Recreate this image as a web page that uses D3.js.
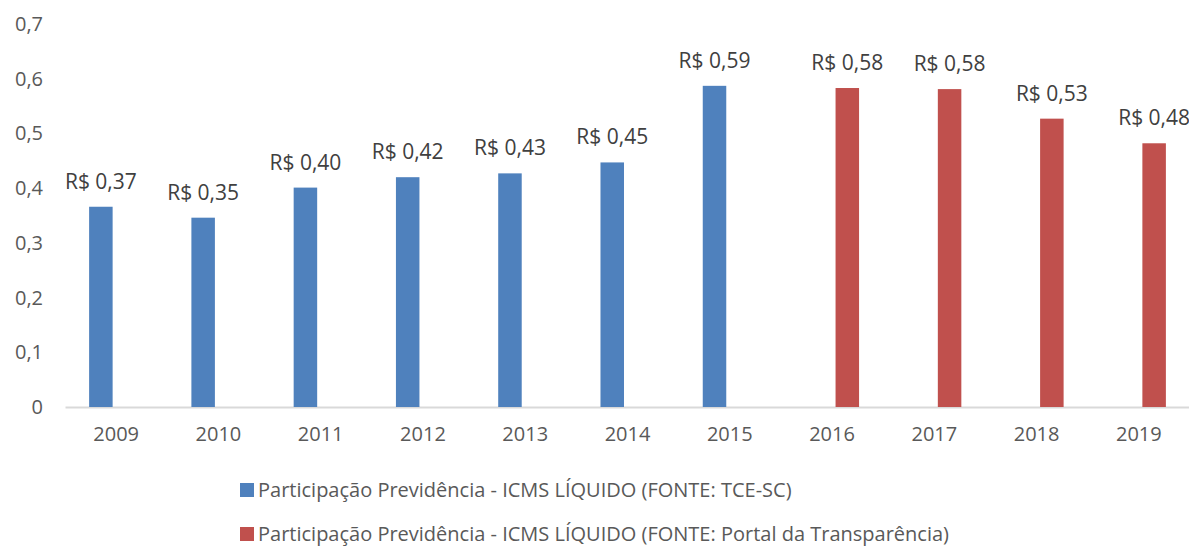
<!DOCTYPE html>
<html>
<head>
<meta charset="utf-8">
<script src="https://cdn.jsdelivr.net/npm/d3@7"></script>
<style>
    body { margin: 0; background: #fff; }
    svg { display: block; font-family: "Open Sans", "Noto Sans", sans-serif; }
</style>
</head>
<body>
<svg id="chart" width="1189" height="548"></svg>
<script>
// data
const years = ["2009", "2010", "2011", "2012", "2013", "2014", "2015", "2016", "2017", "2018", "2019"];
const tceValues = [0.366, 0.346, 0.401, 0.42, 0.427, 0.447, 0.587, null, null, null, null];
const portalValues = [null, null, null, null, null, null, null, 0.583, 0.581, 0.527, 0.482];
const seriesNames = [
    "Participação Previdência - ICMS LÍQUIDO (FONTE: TCE-SC)",
    "Participação Previdência - ICMS LÍQUIDO (FONTE: Portal da Transparência)"
];
const seriesColors = ["#4f81bd", "#c0504d"];
const yTicks = [0, 0.1, 0.2, 0.3, 0.4, 0.5, 0.6, 0.7];

const plotLeft = 65,
    plotRight = 1190,
    plotTop = 24,
    plotBottom = 407

const svg = d3.select("#chart")

const x0 = d3.scaleBand().domain(years).range([plotLeft, plotRight]).padding(0)
const x1 = d3.scaleBand().domain([0, 1]).range([0, x0.bandwidth()])
    .paddingInner(0.23).paddingOuter(0.79)
const y = d3.scaleLinear().domain([0, 0.7]).range([plotBottom, plotTop])

const fmt = v => v.toFixed(2).replace(".", ",")

// y axis labels (no line)
svg.append("g")
    .selectAll("text")
    .data(yTicks)
    .enter()
    .append("text")
    .attr("x", 43)
    .attr("y", d => y(d))
    .attr("dy", "0.35em")
    .attr("text-anchor", "end")
    .attr("font-size", 20)
    .attr("fill", "#595959")
    .text(d => d === 0 ? "0" : String(d).replace(".", ","))

// x axis
const xAxis = svg.append("g")
    .attr("transform", "translate(0," + plotBottom + ")")
    .call(d3.axisBottom(x0).tickSize(0).tickPadding(20))
xAxis.select(".domain").attr("stroke", "#d9d9d9").attr("stroke-width", 2)
xAxis.selectAll("text")
    .attr("font-size", 20)
    .attr("font-family", "\"Open Sans\", \"Noto Sans\", sans-serif")
    .attr("fill", "#595959")

// bars
const series = [tceValues, portalValues]
series.forEach(function (vals, s) {
    const pts = years.map((yr, i) => ({ year: yr, value: vals[i] })).filter(d => d.value != null)

    svg.append("g")
        .selectAll("rect")
        .data(pts)
        .enter()
        .append("rect")
        .attr("x", d => x0(d.year) + x1(s))
        .attr("y", d => y(d.value))
        .attr("width", x1.bandwidth())
        .attr("height", d => plotBottom - y(d.value))
        .attr("fill", seriesColors[s])

    svg.append("g")
        .selectAll("text")
        .data(pts)
        .enter()
        .append("text")
        .attr("x", d => x0(d.year) + x1(s) + x1.bandwidth() / 2)
        .attr("y", d => y(d.value) - 18)
        .attr("text-anchor", "middle")
        .attr("font-size", 21)
        .attr("fill", "#404040")
        .text(d => "R$ " + fmt(d.value))
})

// legend
const legend = svg.append("g")
    .selectAll("g")
    .data(seriesNames)
    .enter()
    .append("g")
    .attr("transform", (d, i) => "translate(240," + (490 + i * 44) + ")")

legend.append("rect")
    .attr("x", 0)
    .attr("y", -7)
    .attr("width", 14)
    .attr("height", 14)
    .attr("fill", (d, i) => seriesColors[i])

legend.append("text")
    .attr("x", 18)
    .attr("y", 0)
    .attr("dy", "0.35em")
    .attr("font-size", 20)
    .attr("fill", "#595959")
    .text(d => d)
</script>
</body>
</html>
